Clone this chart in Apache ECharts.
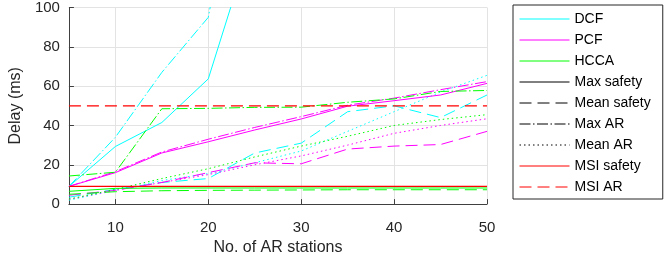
<!DOCTYPE html>
<html>
<head>
<meta charset="utf-8">
<script src="https://cdn.jsdelivr.net/npm/echarts@6/dist/echarts.min.js"></script>
<style>html,body{margin:0;padding:0;background:#fff;}#c{width:664px;height:261px;}</style>
</head>
<body>
<div id="c"></div>
<script>
const stations = [5, 10, 15, 20, 25, 30, 35, 40, 45, 50];
const xTicks = [10, 20, 30, 40, 50];

const dcfMaxSafety  = [9, 29.3, 41.5, 63.7, 139, null, null, null, null, null];
const dcfMeanSafety = [3.5, 7.5, 11, 13, 26, 31, 47, 50, 44, 55.5];
const dcfMaxAR      = [9, 34, 67, 95, 220, null, null, null, null, null];
const dcfMeanAR     = [2, 7, 12, 15.5, 21, 27, 37, 47, 57, 65.5];

const pcfMaxSafety  = [9, 16, 26, 31.7, 37.7, 43.3, 49.8, 52.6, 55.5, 61.4];
const pcfMeanSafety = [4.5, 7, 11, 16, 21, 20.5, 28, 29.5, 30.3, 37];
const pcfMaxAR      = [9, 16.5, 26.5, 33, 39, 44.5, 50.3, 53.9, 58.2, 62.3];
const pcfMeanAR     = [2.5, 7, 11, 15, 20, 24.5, 30, 36, 40, 43.4];

const hccaMaxSafety  = [6.5, 8, 8.2, 8.2, 8.2, 8.2, 8.2, 8.2, 8.2, 8.2];
const hccaMeanSafety = [5, 6.3, 6.8, 7, 7.1, 7.2, 7.3, 7.3, 7.3, 7.3];
const hccaMaxAR      = [14.3, 16.2, 48.5, 48.7, 49.2, 49.3, 51.8, 53.5, 57.3, 57.8];
const hccaMeanAR     = [2.5, 7.5, 13, 18, 24, 29.5, 34.5, 40, 43, 45.5];

const msiSafety = [9, 9, 9, 9, 9, 9, 9, 9, 9, 9];
const msiAR     = [50, 50, 50, 50, 50, 50, 50, 50, 50, 50];

const legendNames = ['DCF', 'PCF', 'HCCA', 'Max safety', 'Mean safety', 'Max AR', 'Mean AR', 'MSI safety', 'MSI AR'];

const CY = '#00FFFF', MG = '#FF00FF', GR = '#00FF00', RD = '#FF0000';
const SOLID = 'solid', DASH = [12, 6], DASHDOT = [11, 2.5, 1.5, 2.5], DOT = [1.5, 3];

function pair(arr) { return stations.map((x, i) => [x, arr[i]]); }
function mk(name, arr, color, type, w) {
  return {
    name: name, type: 'line', data: pair(arr), symbol: 'none', clip: true,
    color: color, lineStyle: {color: color, width: w || 1, type: type},
    emphasis: {disabled: true}, silent: true, z: 2
  };
}
function dummy(name, color, type) {
  return {
    name: name, type: 'line', data: [], symbol: 'none', color: color,
    lineStyle: {color: color, width: 1, type: type}
  };
}

const series = [
  mk('DCF Max safety', dcfMaxSafety, CY, SOLID),
  mk('DCF Mean safety', dcfMeanSafety, CY, DASH),
  mk('DCF Max AR', dcfMaxAR, CY, DASHDOT),
  mk('DCF Mean AR', dcfMeanAR, CY, DOT),
  mk('PCF Max safety', pcfMaxSafety, MG, SOLID),
  mk('PCF Mean safety', pcfMeanSafety, MG, DASH),
  mk('PCF Max AR', pcfMaxAR, MG, DASHDOT),
  mk('PCF Mean AR', pcfMeanAR, MG, DOT),
  mk('HCCA Max safety', hccaMaxSafety, GR, SOLID),
  mk('HCCA Mean safety', hccaMeanSafety, GR, DASH),
  mk('HCCA Max AR', hccaMaxAR, GR, DASHDOT),
  mk('HCCA Mean AR', hccaMeanAR, GR, DOT),
  mk('MSI safety line', msiSafety, RD, SOLID, 1.2),
  mk('MSI AR line', msiAR, RD, DASH, 1.2),
  dummy('DCF', CY, SOLID),
  dummy('PCF', MG, SOLID),
  dummy('HCCA', GR, SOLID),
  dummy('Max safety', '#000', SOLID),
  dummy('Mean safety', '#000', DASH),
  dummy('Max AR', '#000', DASHDOT),
  dummy('Mean AR', '#000', DOT),
  dummy('MSI safety', RD, SOLID),
  dummy('MSI AR', RD, DASH)
];

const FONT = '"Liberation Sans", Arial, Helvetica, sans-serif';
const chart = echarts.init(document.getElementById('c'), null, {renderer: 'canvas'});
chart.setOption({
  animation: false,
  backgroundColor: '#fff',
  grid: {left: 62, top: 5, width: 425, height: 206, containLabel: false},
  legend: {
    data: legendNames, orient: 'vertical', left: 513, top: 5,
    padding: [7, 12, 5, 6], itemGap: 7, itemWidth: 50, itemHeight: 14,
    borderColor: '#262626', borderWidth: 1, borderRadius: 0, backgroundColor: '#fff',
    textStyle: {fontFamily: FONT, fontSize: 14, color: '#000'},
    itemStyle: {opacity: 0, color: 'rgba(0,0,0,0)', borderWidth: 0},
    lineStyle: {width: 1},
    selectedMode: false
  },
  xAxis: {
    type: 'value', min: 5, max: 50,
    name: 'No. of AR stations', nameLocation: 'middle', nameGap: 35,
    nameTextStyle: {fontFamily: FONT, fontSize: 16, color: '#262626'},
    axisLine: {onZero: false, lineStyle: {color: '#404040', width: 1}},
    axisTick: {inside: true, length: 5, customValues: xTicks, lineStyle: {color: '#404040'}},
    axisLabel: {customValues: xTicks, fontFamily: FONT, fontSize: 15, color: '#262626', margin: 16},
    splitLine: {show: true, lineStyle: {color: '#e3e3e3', width: 1}}
  },
  yAxis: {
    type: 'value', min: 0, max: 100, interval: 20,
    name: 'Delay (ms)', nameLocation: 'middle', nameGap: 38,
    nameTextStyle: {fontFamily: FONT, fontSize: 16, color: '#262626'},
    axisLine: {show: true, lineStyle: {color: '#404040', width: 1}},
    axisTick: {show: true, inside: true, length: 5, lineStyle: {color: '#404040'}},
    axisLabel: {fontFamily: FONT, fontSize: 15, color: '#262626', margin: 9},
    splitLine: {show: true, lineStyle: {color: '#e3e3e3', width: 1}}
  },
  series: series
});
</script>
</body>
</html>
